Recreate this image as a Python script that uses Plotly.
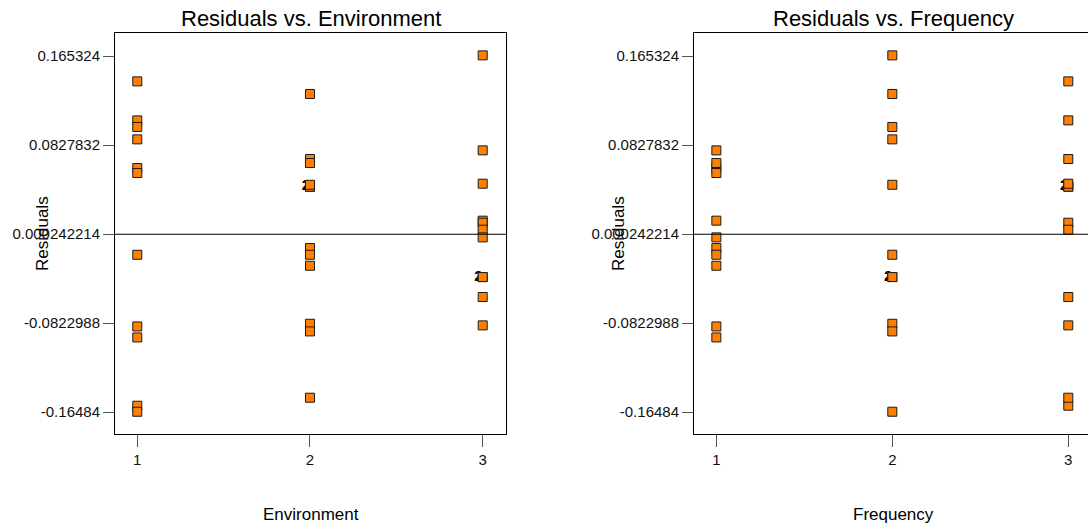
import plotly.graph_objects as go
import pandas as pd

# ---- data ----
environment = [1, 1, 1, 1, 1, 1, 1, 1, 1, 1, 1,
               2, 2, 2, 2, 2, 2, 2, 2, 2, 2, 2, 2,
               3, 3, 3, 3, 3, 3, 3, 3, 3, 3, 3]
frequency = [3, 3, 2, 2, 1, 1, 2, 1, 1, 3, 2,
             2, 3, 1, 3, 3, 2, 1, 1, 1, 2, 2, 3,
             2, 1, 3, 1, 3, 3, 1, 2, 2, 3, 3]
residuals = [0.1418, 0.1056, 0.0995, 0.0880, 0.0614, 0.0568, -0.0190, -0.0855, -0.0957, -0.1590, -0.1646,
             0.1301, 0.0698, 0.0661, 0.0441, 0.0441, 0.0459, -0.0128, -0.0190, -0.0292, -0.0830, -0.0901, -0.1516,
             0.1659, 0.0778, 0.0469, 0.0126, 0.0107, 0.0042, -0.0029, -0.0397, -0.0397, -0.0582, -0.0845]

y_tick_values = [0.165324, 0.0827832, 0.000242214, -0.0822988, -0.16484]
y_tick_labels = ["0.165324", "0.0827832", "0.000242214", "-0.0822988", "-0.16484"]
x_tick_values = [1, 2, 3]
x_tick_labels = ["1", "2", "3"]
panel_factors = ["Environment", "Frequency"]

df = pd.DataFrame({"Environment": environment, "Frequency": frequency, "Residuals": residuals})

W, H = 1088, 527
FONT = "Liberation Sans, Arial, sans-serif"

fig = go.Figure()

domains = [[115 / W, 506 / W], [694 / W, 1.0]]
xranges = [[0.871, 3.135], [0.873, 3.112]]
ydom = [1 - 434 / H, 1 - 33 / H]
yrange = [-0.18524, 0.18665]

for i, factor in enumerate(panel_factors):
    xa = "x" if i == 0 else "x2"
    ya = "y" if i == 0 else "y2"
    # duplicate counts ("2" labels)
    counts = df.groupby([factor, "Residuals"]).size().reset_index(name="n")
    dups = counts[counts["n"] > 1]
    fig.add_trace(go.Scatter(
        x=dups[factor], y=dups["Residuals"], mode="text",
        text=dups["n"].astype(str), textposition="middle left",
        textfont=dict(family=FONT, size=15, color="black", weight="bold"),
        xaxis=xa, yaxis=ya, showlegend=False, hoverinfo="skip"))
    fig.add_trace(go.Scatter(
        x=df[factor], y=df["Residuals"], mode="markers",
        marker=dict(symbol="square", size=9, color="#FF8000",
                    line=dict(color="#1a1a1a", width=1)),
        xaxis=xa, yaxis=ya, showlegend=False))

axis_common = dict(showgrid=False, zeroline=False, showline=True, linecolor="#000000",
                   linewidth=1, ticks="outside", tickcolor="#555555",
                   tickfont=dict(family=FONT, size=15, color="#111111"))

fig.update_layout(
    width=W, height=H,
    margin=dict(l=0, r=0, t=0, b=0),
    paper_bgcolor="white", plot_bgcolor="white",
    xaxis=dict(domain=domains[0], range=xranges[0], tickvals=x_tick_values, ticktext=x_tick_labels,
               mirror=True, ticklen=12, anchor="y", **axis_common),
    yaxis=dict(domain=ydom, range=yrange, tickvals=y_tick_values, ticktext=y_tick_labels,
               mirror=True, ticklen=11, anchor="x", **axis_common),
    xaxis2=dict(domain=domains[1], range=xranges[1], tickvals=x_tick_values, ticktext=x_tick_labels,
                mirror=True, ticklen=12, anchor="y2", **axis_common),
    yaxis2=dict(domain=ydom, range=yrange, tickvals=y_tick_values, ticktext=y_tick_labels,
                mirror=False, ticklen=11, anchor="x2", **axis_common),
)

# zero reference lines
for xr, yr in [("x domain", "y"), ("x2 domain", "y2")]:
    fig.add_shape(type="line", xref=xr, yref=yr, x0=0, x1=1, y0=0, y1=0,
                  line=dict(color="#000000", width=1))

annotations = []
title_x = [(115 + 506) / 2 / W, (694 + 1092) / 2 / W]
ytitle_x = [42 / W, 618 / W]
for i, factor in enumerate(panel_factors):
    annotations.append(dict(text="Residuals vs. " + factor, xref="paper", yref="paper",
                            x=title_x[i], y=1 - 18 / H, showarrow=False,
                            xanchor="center", yanchor="middle",
                            font=dict(family=FONT, size=22, color="#000000")))
    annotations.append(dict(text=factor, xref="paper", yref="paper",
                            x=title_x[i], y=1 - 514 / H, showarrow=False,
                            xanchor="center", yanchor="middle",
                            font=dict(family=FONT, size=17, color="#000000")))
    annotations.append(dict(text="Residuals", xref="paper", yref="paper",
                            x=ytitle_x[i], y=1 - 234 / H, showarrow=False, textangle=-90,
                            xanchor="center", yanchor="middle",
                            font=dict(family=FONT, size=17, color="#000000")))
fig.update_layout(annotations=annotations)

fig.write_html("out.html", config={"displayModeBar": False},
               post_script="document.body.style.margin='0';document.body.style.overflow='hidden';")
